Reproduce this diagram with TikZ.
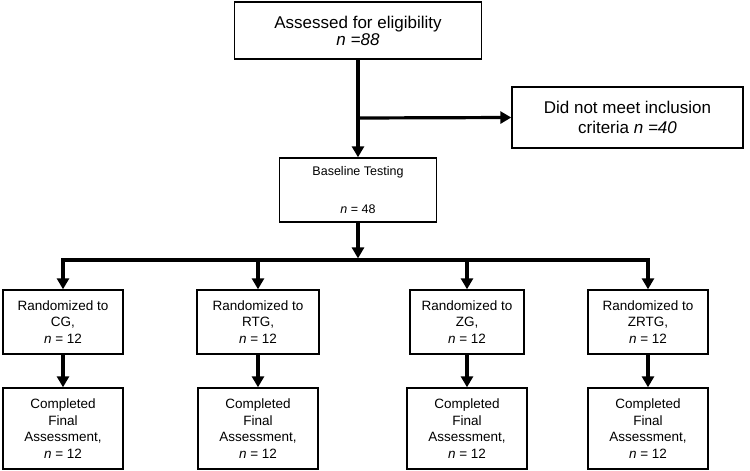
\documentclass[tikz,border=0pt]{standalone}
\usepackage{fontspec}
\setmainfont{Liberation Sans}
\usetikzlibrary{arrows.meta}
\begin{document}
\begin{tikzpicture}[x=1pt,y=-1pt,
	stage/.style={rectangle,draw,line width=1.4pt,inner sep=0pt,align=center},
	group/.style={stage,minimum width=120pt,minimum height=64pt,font=\fontsize{13.5}{16.8}\selectfont},
	final/.style={stage,minimum width=120pt,minimum height=81pt,font=\fontsize{13.5}{16.5}\selectfont},
	flow/.style={line width=3.2pt,-{Triangle[length=11pt,width=12pt]}}]
	\useasboundingbox (0,0) rectangle (750,471);
	\node[stage,font=\fontsize{17}{17}\selectfont,minimum width=247pt,minimum height=57pt] (elig) at (358,30.5) {Assessed for eligibility\\\textit{n =88}};
	\node[stage,font=\fontsize{17}{20}\selectfont,minimum width=231pt,minimum height=61pt] (excl) at (627.5,117.5) {Did not meet inclusion\\criteria \textit{n =40}};
	\node[stage,font=\fontsize{12.5}{15}\selectfont,minimum width=157pt,minimum height=64pt] (base) at (358,190) {Baseline Testing\\[23pt]\textit{n} = 48};
	\coordinate (split) at (358,118);
	\coordinate (bar) at (358,260);
	\node[group] (CG) at (63,322) {Randomized to\\CG,\\\textit{n} = 12};
	\node[group,minimum width=122pt] (RTG) at (258,322) {Randomized to\\RTG,\\\textit{n} = 12};
	\node[group,minimum width=114pt] (ZG) at (467,322) {Randomized to\\ZG,\\\textit{n} = 12};
	\node[group] (ZRTG) at (648,322) {Randomized to\\ZRTG,\\\textit{n} = 12};
	\node[final] (CGf) at (63,428.5) {Completed\\Final\\Assessment,\\\textit{n} = 12};
	\node[final] (RTGf) at (258,428.5) {Completed\\Final\\Assessment,\\\textit{n} = 12};
	\node[final] (ZGf) at (467,428.5) {Completed\\Final\\Assessment,\\\textit{n} = 12};
	\node[final] (ZRTGf) at (648,428.5) {Completed\\Final\\Assessment,\\\textit{n} = 12};
	\draw[flow] (elig.south) -- (base.north);
	\draw[flow] (split) -- (excl.west);
	\draw[flow,shorten >=1.6pt] (base.south) -- (bar);
	\draw[flow] (bar) -| (CG.north);
	\draw[flow] (bar) -| (RTG.north);
	\draw[flow] (bar) -| (ZG.north);
	\draw[flow] (bar) -| (ZRTG.north);
	\draw[flow] (CG.south) -- (CGf.north);
	\draw[flow] (RTG.south) -- (RTGf.north);
	\draw[flow] (ZG.south) -- (ZGf.north);
	\draw[flow] (ZRTG.south) -- (ZRTGf.north);
\end{tikzpicture}
\end{document}
